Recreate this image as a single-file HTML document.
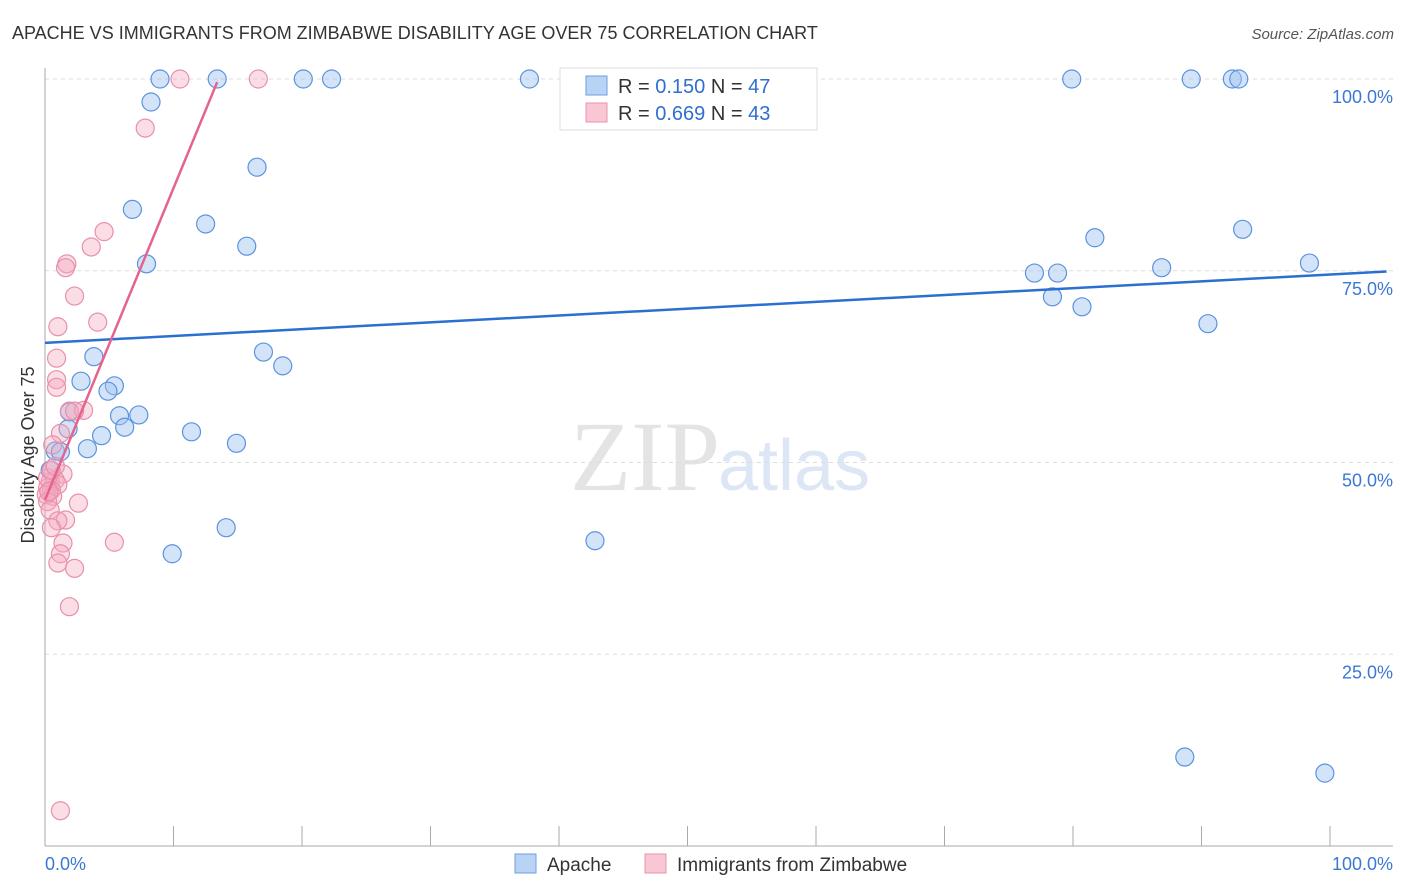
<!DOCTYPE html>
<html><head><meta charset="utf-8"><style>
body{margin:0;background:#fff;font-family:"Liberation Sans",sans-serif}
svg{display:block}
</style></head><body>
<svg id="c" width="1406" height="892" xmlns="http://www.w3.org/2000/svg">
<text x="12" y="39" font-size="18" fill="#333">APACHE VS IMMIGRANTS FROM ZIMBABWE DISABILITY AGE OVER 75 CORRELATION CHART</text>
<text x="1394" y="39" font-size="15" fill="#555" text-anchor="end" font-style="italic">Source: ZipAtlas.com</text>
<text x="720" y="490" font-size="100" fill="#e4e4e4" text-anchor="end" font-family="Liberation Serif">ZIP</text>
<text x="718" y="490" font-size="72" fill="#dce6f5">atlas</text>
<text transform="translate(34,455) rotate(-90)" font-size="18" fill="#333" text-anchor="middle">Disability Age Over 75</text>
<g id="grid"></g><g id="axes"></g><g id="pts"></g><g id="lines"></g>
<g>
<rect x="560" y="68" width="257" height="62" fill="#fff" stroke="#ddd"/>
<rect x="586" y="76" width="21" height="19" fill="#b9d3f5" stroke="#6d9de0"/>
<rect x="586" y="103" width="21" height="19" fill="#f9c6d4" stroke="#e893ab"/>
<text x="618" y="93" font-size="20" fill="#333">R = <tspan fill="#2f6fcf">0.150</tspan>   N = <tspan fill="#2f6fcf">47</tspan></text>
<text x="618" y="120" font-size="20" fill="#333">R = <tspan fill="#2f6fcf">0.669</tspan>   N = <tspan fill="#2f6fcf">43</tspan></text>
</g>
<g>
<rect x="515" y="854" width="21" height="19" fill="#b9d3f5" stroke="#6d9de0"/>
<text x="547" y="871" font-size="19" fill="#333">Apache</text>
<rect x="645" y="854" width="21" height="19" fill="#f9c6d4" stroke="#e893ab"/>
<text x="677" y="871" font-size="19" fill="#333">Immigrants from Zimbabwe</text>
</g>
<text x="45" y="870" font-size="18" fill="#3b78d4">0.0%</text>
<text x="1393" y="870" font-size="18" fill="#3b78d4" text-anchor="end">100.0%</text>
</svg>
<script>
const yTicks=[100,75,50,25];
const yTickLabels=["100.0%","75.0%","50.0%","25.0%"];
const xTicks=[0,10,20,30,40,50,60,70,80,90,100];
const apacheX=[8.95,13.4,20.1,22.3,37.7,79.9,89.2,92.4,92.9,8.25,16.5,6.8,12.5,15.7,7.9,81.7,93.2,77.0,78.8,86.9,98.4,78.4,80.7,90.5,17.0,18.5,3.8,2.8,5.4,4.9,5.8,7.3,6.2,1.8,11.4,4.4,14.9,3.3,0.8,1.2,14.1,9.9,42.8,88.7,99.6,0.4,1.9];
const apacheY=[100,100,100,100,100,100,100,100,100,97.0,88.5,83.0,81.1,78.2,75.9,79.3,80.4,74.7,74.7,75.4,76.0,71.6,70.3,68.1,64.4,62.6,63.8,60.6,60.0,59.3,56.1,56.2,54.6,54.4,54.0,53.5,52.5,51.8,51.5,51.4,41.5,38.1,39.8,11.6,9.5,49.0,56.6];
const zimX=[10.5,16.6,7.8,4.6,3.6,1.7,1.6,2.3,1.0,4.1,0.9,0.9,0.9,1.9,3.0,2.3,1.2,0.6,1.4,0.8,0.4,1.0,0.2,0.5,0.1,0.6,2.6,0.2,0.4,1.6,1.0,0.5,5.4,1.4,1.2,1.0,2.3,1.9,1.2,0.2,0.3,0.5,0.8];
const zimY=[100,100,93.6,80.1,78.1,75.9,75.4,71.7,67.7,68.3,63.6,60.8,59.8,56.7,56.8,56.7,53.8,52.3,48.5,47.7,47.5,47.1,46.7,46.4,45.8,45.6,44.7,44.9,43.8,42.5,42.4,41.5,39.6,39.5,38.1,36.9,36.2,31.2,4.6,48.0,46.2,49.0,49.5];
const apacheTrend=[[0,65.6],[104.4,74.9]];
const zimTrend=[[0,45.1],[13.4,99.6]];
const NS="http://www.w3.org/2000/svg";
const sx=v=>45+v*12.85, sy=v=>846-v*7.67;
function mk(tag,attrs,parent){const e=document.createElementNS(NS,tag);for(const k in attrs)e.setAttribute(k,attrs[k]);document.getElementById(parent).appendChild(e);return e;}
yTicks.forEach((t,i)=>{
 const g=mk('line',{x1:45,x2:1393,y1:sy(t),y2:sy(t),stroke:'#ddd','stroke-dasharray':'4,4'},'grid');
 
 
 const l=mk('text',{x:1393,y:sy(t)+24,'font-size':18,fill:'#3b78d4','text-anchor':'end'},'grid');
 l.textContent=yTickLabels[i];
 
 
});
const ax=mk('line',{x1:45,x2:1393,y1:846,y2:846,stroke:'#aaa'},'axes');


const ay=mk('line',{x1:45,x2:45,y1:68,y2:846,stroke:'#aaa'},'axes');


xTicks.forEach(t=>{
 const e=mk('line',{x1:sx(t),x2:sx(t),y1:826,y2:846,stroke:'#aaa'},'axes');
 
 
});
apacheX.forEach((x,i)=>{
 const c=mk('circle',{cx:sx(x),cy:sy(apacheY[i]),r:9,fill:'rgba(160,196,240,0.45)',stroke:'#5b93de','stroke-width':1.2},'pts');
 
 
});
zimX.forEach((x,i)=>{
 const c=mk('circle',{cx:sx(x),cy:sy(zimY[i]),r:9,fill:'rgba(245,170,192,0.4)',stroke:'#e890aa','stroke-width':1.2},'pts');
 
 
});
const l1=mk('line',{x1:sx(apacheTrend[0][0]),y1:sy(apacheTrend[0][1]),x2:sx(apacheTrend[1][0]),y2:sy(apacheTrend[1][1]),stroke:'#2a6fd1','stroke-width':2.5},'lines');


const l2=mk('line',{x1:sx(zimTrend[0][0]),y1:sy(zimTrend[0][1]),x2:sx(zimTrend[1][0]),y2:sy(zimTrend[1][1]),stroke:'#e4638f','stroke-width':2.5},'lines');


</script>
</body></html>
